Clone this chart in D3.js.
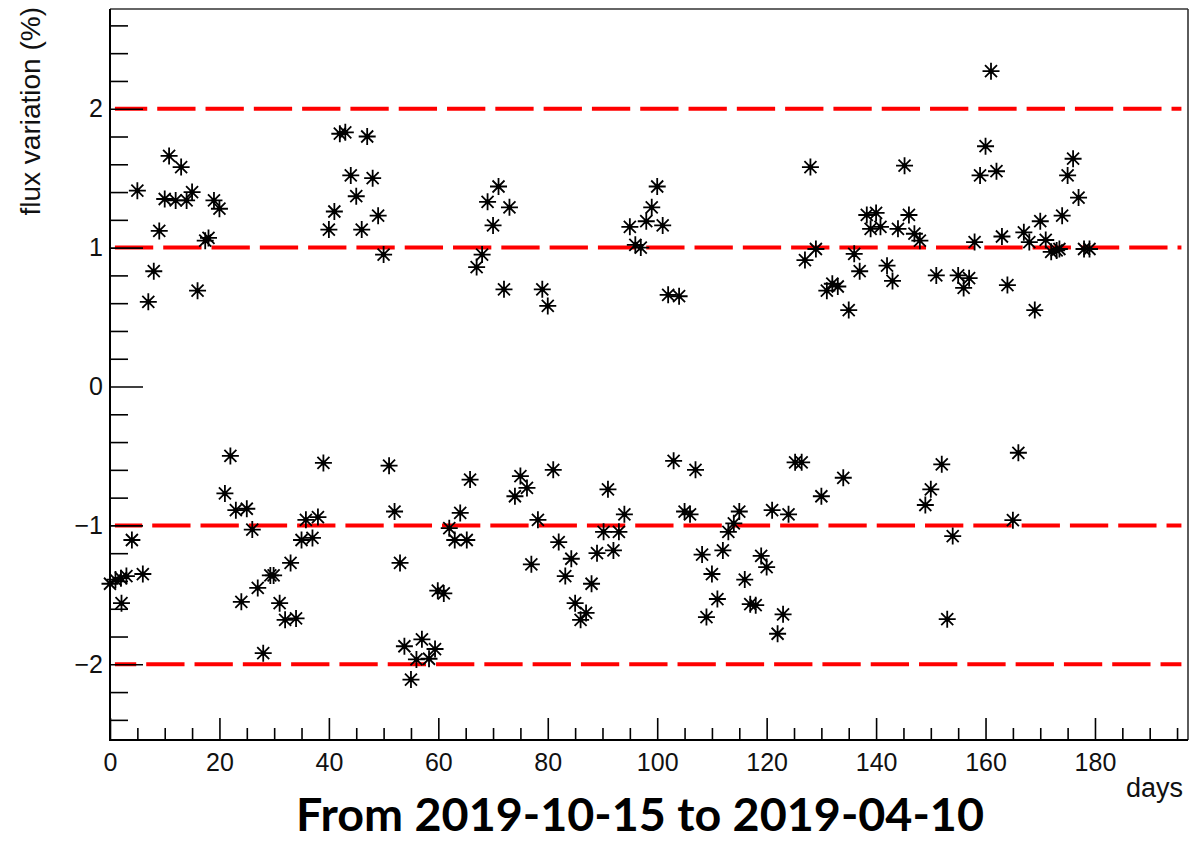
<!DOCTYPE html>
<html>
<head>
<meta charset="utf-8">
<script src="https://cdn.jsdelivr.net/npm/d3@7"></script>
<style>
  body { margin: 0; background: #fff; }
  svg { display: block; }
</style>
</head>
<body>
<svg id="chart" width="1192" height="841"></svg>
<script>
// ---- data ----
const days = [
  5, 7, 8, 9, 10, 10.8, 12, 13, 14, 15, 16, 17.4, 18, 19, 20,
  40, 41, 42, 43, 44, 45, 46, 47, 48, 49, 50,
  67, 68, 69, 70, 71, 72, 73, 79, 80,
  95, 96, 97, 98, 99, 100, 101, 102, 104,
  127, 128, 129, 131, 132, 133, 135, 136, 137, 138.3, 139, 140, 140.8, 142, 143, 144, 145.2, 146, 147, 148,
  151, 155, 156, 157, 158, 159, 160, 161, 162, 163, 164, 167, 168, 169, 170, 171, 172, 173, 173.5, 174, 175, 176, 177, 178, 179,
  0, 1, 2, 2.1, 3, 4, 6,
  21, 22, 23, 24, 25, 26, 27, 28, 29.3, 29.9, 31, 32, 33, 34, 35, 35.8, 37, 38, 39,
  51, 52, 53, 53.8, 55, 56, 57, 58.3, 59.4, 59.9, 61, 62, 63, 64, 65.2, 65.8,
  74, 75, 76.2, 77, 78.2, 81, 82, 83.2, 84.3, 85, 86, 87, 88, 89, 90.2, 91, 92, 93, 94,
  103, 105, 106, 107, 108.2, 109, 110, 111, 112, 113, 114, 115, 116, 117, 118, 119, 120, 121, 122, 123, 124, 125.2, 126.4,
  130, 134, 149, 150, 152, 153, 154, 165, 166
];
const flux = [
  1.41, 0.61, 0.83, 1.12, 1.35, 1.66, 1.34, 1.58, 1.34, 1.40, 0.69, 1.05, 1.07, 1.34, 1.28,
  1.13, 1.26, 1.82, 1.83, 1.52, 1.37, 1.13, 1.80, 1.50, 1.23, 0.95,
  0.86, 0.95, 1.33, 1.16, 1.44, 0.70, 1.29, 0.70, 0.58,
  1.15, 1.02, 1.00, 1.19, 1.29, 1.44, 1.16, 0.66, 0.65,
  0.91, 1.58, 0.99, 0.69, 0.74, 0.72, 0.55, 0.955, 0.83, 1.235, 1.135, 1.25, 1.15, 0.87, 0.76, 1.135, 1.59, 1.235, 1.10, 1.05,
  0.80, 0.80, 0.71, 0.78, 1.04, 1.52, 1.73, 2.27, 1.55, 1.08, 0.73, 1.11, 1.04, 0.55, 1.19, 1.055, 0.97, 0.98, 0.99, 1.23, 1.52, 1.64, 1.36, 0.99, 0.99,
  -1.42, -1.39, -1.38, -1.56, -1.365, -1.105, -1.35,
  -0.77, -0.50, -0.89, -1.55, -0.88, -1.03, -1.45, -1.92, -1.36, -1.36, -1.56, -1.68, -1.27, -1.67, -1.105, -0.96, -1.09, -0.94, -0.55,
  -0.57, -0.90, -1.27, -1.87, -2.11, -1.965, -1.82, -1.96, -1.89, -1.47, -1.49, -1.02, -1.105, -0.91, -1.105, -0.67,
  -0.79, -0.645, -0.73, -1.28, -0.96, -0.60, -1.12, -1.365, -1.24, -1.56, -1.68, -1.63, -1.42, -1.20, -1.046, -0.74, -1.18, -1.046, -0.92,
  -0.535, -0.90, -0.92, -0.60, -1.21, -1.66, -1.35, -1.53, -1.18, -1.046, -0.985, -0.90, -1.39, -1.567, -1.574, -1.22, -1.30, -0.89, -1.78, -1.64, -0.92, -0.546, -0.546,
  -0.79, -0.657, -0.853, -0.74, -0.56, -1.675, -1.077, -0.962, -0.477
];
const refLevels = [2, 1, -1, -2];
const refLineSpan = [0.9, 195.8];
const xMajorTicks = [0, 20, 40, 60, 80, 100, 120, 140, 160, 180];
const yMajorTicks = [-2, -1, 0, 1, 2];
const xDomain = [0, 197];
const yDomain = [-2.545, 2.718];
const xTitle = "days";
const yTitle = "flux variation (%)";
const chartTitle = "From 2019-10-15 to 2019-04-10";

// ---- layout ----
const svg = d3.select("#chart");
const L = 110, R = 1188, T = 9, B = 740;
const x = d3.scaleLinear().domain(xDomain).range([L, R]);
const y = d3.scaleLinear().domain(yDomain).range([B, T]);
const font = "'Liberation Sans', Arial, Helvetica, sans-serif";

const xMinor = d3.range(0, 196, 5).filter(v => v % 20 !== 0);
const yMinor = d3.range(-24, 27, 2).map(v => v / 10).filter(v => Math.abs(v - Math.round(v)) > 1e-6);

// reference dashed lines
const dashOffsets = [6, 0, 11, 17];
svg.append("g").selectAll("line").data(refLevels).join("line")
  .attr("x1", x(refLineSpan[0])).attr("x2", x(refLineSpan[1]))
  .attr("y1", d => y(d)).attr("y2", d => y(d))
  .attr("stroke", "#ff0000").attr("stroke-width", 4)
  .attr("stroke-dasharray", "38.3,10")
  .attr("stroke-dashoffset", (d, i) => dashOffsets[i]);

// axes (ticks inside)
function styleAxis(g) {
  g.select(".domain").remove();
  g.selectAll(".tick line").attr("stroke", "#000").attr("stroke-width", 1.6);
  g.selectAll(".tick text").attr("font-family", font).attr("font-size", 25).attr("fill", "#111");
}
svg.append("g").attr("transform", `translate(${L},0)`)
  .call(d3.axisLeft(y).tickValues(yMinor).tickSizeInner(-18).tickSizeOuter(0).tickFormat(""))
  .call(styleAxis);
svg.append("g").attr("transform", `translate(${L},0)`)
  .call(d3.axisLeft(y).tickValues(yMajorTicks).tickSizeInner(-33).tickSizeOuter(0).tickPadding(7).tickFormat(d3.format("d")))
  .call(styleAxis);
svg.append("g").attr("transform", `translate(0,${B})`)
  .call(d3.axisBottom(x).tickValues(xMinor).tickSizeInner(-12).tickSizeOuter(0).tickFormat(""))
  .call(styleAxis);
svg.append("g").attr("transform", `translate(0,${B})`)
  .call(d3.axisBottom(x).tickValues(xMajorTicks).tickSizeInner(-22).tickSizeOuter(0).tickPadding(13).tickFormat(d3.format("d")))
  .call(styleAxis);

// frame
svg.append("line").attr("x1", L).attr("x2", R).attr("y1", T).attr("y2", T).attr("stroke", "#333").attr("stroke-width", 1.6);
svg.append("line").attr("x1", R).attr("x2", R).attr("y1", T).attr("y2", B).attr("stroke", "#333").attr("stroke-width", 1.6);
svg.append("line").attr("x1", L).attr("x2", L).attr("y1", T).attr("y2", B + 1).attr("stroke", "#000").attr("stroke-width", 2);
svg.append("line").attr("x1", L - 1).attr("x2", R).attr("y1", B).attr("y2", B).attr("stroke", "#000").attr("stroke-width", 2);

// asterisk markers
const r = 8.5, dg = 6;
const p = d3.path();
p.moveTo(-r, 0); p.lineTo(r, 0);
p.moveTo(0, -r); p.lineTo(0, r);
p.moveTo(-dg, -dg); p.lineTo(dg, dg);
p.moveTo(-dg, dg); p.lineTo(dg, -dg);
const starPath = p.toString();

const pts = days.map((d, i) => ({ day: d, v: flux[i] }));
const mk = svg.append("g").selectAll("g").data(pts).join("g")
  .attr("transform", d => `translate(${x(d.day)},${y(d.v)})`);
mk.append("path").attr("d", starPath).attr("stroke", "#000").attr("stroke-width", 1.8).attr("fill", "none");
mk.append("circle").attr("r", 2.5).attr("fill", "#000");

// titles
svg.append("text").attr("transform", "rotate(-90)")
  .attr("x", -7).attr("y", 40).attr("text-anchor", "end")
  .attr("font-family", font).attr("font-size", 28).attr("fill", "#111")
  .text(yTitle);
svg.append("text").attr("x", 1183).attr("y", 797).attr("text-anchor", "end")
  .attr("font-family", font).attr("font-size", 27).attr("fill", "#111")
  .text(xTitle);
svg.append("text").attr("x", 640).attr("y", 831).attr("text-anchor", "middle")
  .attr("font-family", "Lato, 'Open Sans', sans-serif").attr("font-weight", "bold")
  .attr("font-size", 45).attr("fill", "#000")
  .attr("textLength", 688).attr("lengthAdjust", "spacingAndGlyphs")
  .text(chartTitle);
</script>
</body>
</html>
